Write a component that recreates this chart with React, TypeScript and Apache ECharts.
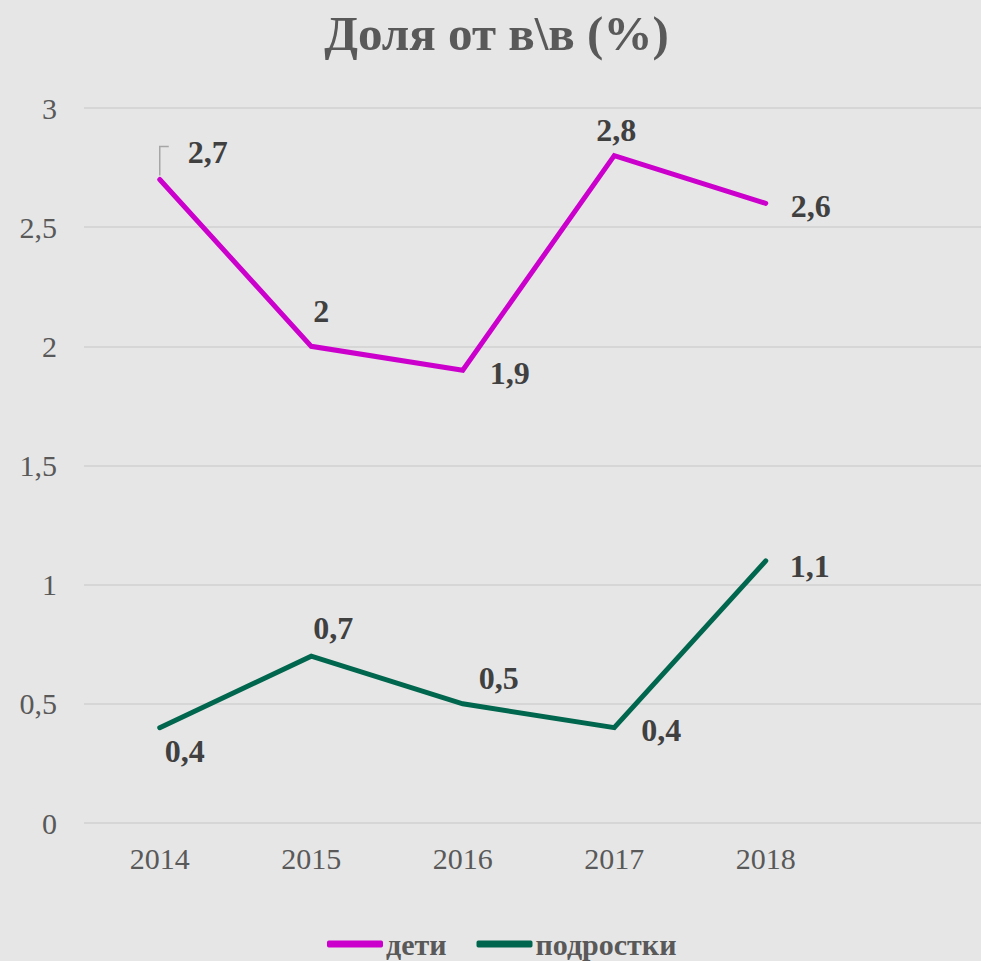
import React, { useEffect, useRef } from "react";
import * as echarts from "echarts";

const categories = ["2014", "2015", "2016", "2017", "2018", ""];
const childrenValues = [2.7, 2.0, 1.9, 2.8, 2.6];
const teenValues = [0.4, 0.7, 0.5, 0.4, 1.1];
const seriesNames = ["дети", "подростки"];
const titleText = "Доля от в\\в (%)";

// label placement per point: [position, dx, dy]
const childLabelPos: [string, number, number][] = [
  ["right", 23, -28],
  ["top", 10, -14],
  ["right", 22, 3],
  ["top", 2, -5],
  ["right", 20, 3],
];
const teenLabelPos: [string, number, number][] = [
  ["bottom", 25, 2],
  ["top", 22, -7],
  ["top", 36, -5],
  ["right", 22, 2],
  ["right", 19, 5],
];

const FONT = "'Liberation Serif', 'Times New Roman', serif";
const fmt = (v: number) => String(v).replace(".", ",");

function buildData(values: number[], pos: [string, number, number][]) {
  return values.map((v, i) => ({
    value: v,
    label: {
      position: pos[i][0],
      offset: [pos[i][1], pos[i][2]],
    },
  }));
}

export default function App() {
  const ref = useRef<HTMLDivElement>(null);
  useEffect(() => {
    document.body.style.margin = "0";
    document.body.style.overflow = "hidden";
    document.documentElement.style.overflow = "hidden";
    const chart = echarts.init(ref.current!, undefined, { renderer: "svg" });
    const labelStyle = {
      show: true,
      fontFamily: FONT,
      fontWeight: "bold",
      fontSize: 32,
      color: "#404040",
      formatter: (p: any) => fmt(p.value),
    };
    chart.setOption({
      animation: false,
      backgroundColor: "#e6e6e6",
      title: {
        text: titleText,
        left: "center",
        top: 4,
        textStyle: {
          fontFamily: FONT,
          fontWeight: "bold",
          fontSize: 49,
          color: "#595959",
        },
      },
      legend: {
        left: 322,
        top: 924,
        icon: "roundRect",
        itemWidth: 56,
        itemHeight: 7,
        itemGap: 30,
        textStyle: {
          fontFamily: FONT,
          fontWeight: "bold",
          fontSize: 30,
          lineHeight: 30,
          color: "#595959",
          padding: [0, 0, 0, -2],
        },
        data: seriesNames,
      },
      grid: { left: 84, right: 0, top: 108, bottom: 138, containLabel: false },
      xAxis: {
        type: "category",
        data: categories,
        boundaryGap: true,
        axisLine: { show: false },
        axisTick: { show: false },
        axisLabel: {
          fontFamily: FONT,
          fontSize: 30,
          color: "#595959",
          margin: 20,
        },
      },
      yAxis: {
        type: "value",
        min: 0,
        max: 3,
        interval: 0.5,
        axisLine: { show: false },
        axisTick: { show: false },
        splitLine: { lineStyle: { color: "#d6d6d6", width: 2 } },
        axisLabel: {
          fontFamily: FONT,
          fontSize: 30,
          color: "#595959",
          margin: 27,
          formatter: (v: number) => fmt(v),
        },
      },
      series: [
        {
          name: seriesNames[0],
          type: "line",
          data: buildData(childrenValues, childLabelPos),
          symbol: "circle",
          symbolSize: 0,
          showSymbol: true,
          itemStyle: { color: "#cc00cc" },
          lineStyle: { color: "#cc00cc", width: 5, cap: "round", join: "miter" },
          label: labelStyle,
        },
        {
          name: seriesNames[1],
          type: "line",
          data: buildData(teenValues, teenLabelPos),
          symbol: "circle",
          symbolSize: 0,
          showSymbol: true,
          itemStyle: { color: "#00664d" },
          lineStyle: { color: "#00664d", width: 5, cap: "round", join: "miter" },
          label: labelStyle,
        },
      ],
    });
    // leader bracket for the first "дети" label, anchored on the data point
    const p = chart.convertToPixel({ gridIndex: 0 }, [categories[0], childrenValues[0]]) as number[];
    if (p && isFinite(p[0]) && isFinite(p[1])) {
      chart.setOption({
        graphic: [
          {
            type: "polyline",
            shape: {
              points: [
                [p[0], p[1] - 4],
                [p[0], p[1] - 33],
                [p[0] + 9, p[1] - 33],
              ],
            },
            style: { stroke: "#a6a6a6", lineWidth: 1.5, fill: "none" },
            z: 10,
          },
        ],
      });
    }
    return () => chart.dispose();
  }, []);
  return <div ref={ref} style={{ width: 993, height: 961 }} />;
}
